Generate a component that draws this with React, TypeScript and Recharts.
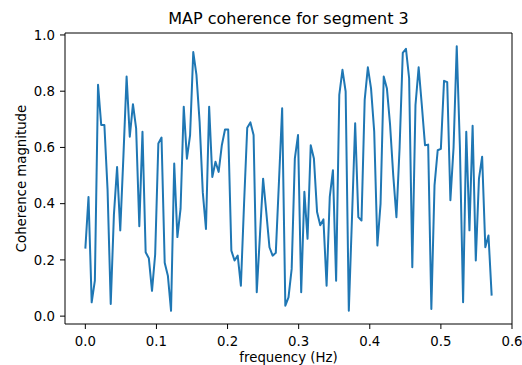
import { LineChart, Line, XAxis, YAxis, Label, ReferenceLine } from "recharts";

// coherence magnitude per frequency bin (129 bins, 0 .. ~0.571 Hz)
const coherence = [
  0.24, 0.424, 0.049, 0.126, 0.823, 0.68, 0.68, 0.45, 0.043, 0.36,
  0.53, 0.305, 0.57, 0.852, 0.638, 0.754, 0.668, 0.32, 0.656, 0.227,
  0.206, 0.09, 0.22, 0.614, 0.635, 0.19, 0.144, 0.019, 0.543, 0.281,
  0.382, 0.745, 0.56, 0.644, 0.939, 0.858, 0.69, 0.44, 0.31, 0.745,
  0.495, 0.549, 0.513, 0.608, 0.664, 0.664, 0.233, 0.198, 0.215, 0.108,
  0.4, 0.67, 0.689, 0.644, 0.085, 0.287, 0.489, 0.37, 0.245, 0.215,
  0.225, 0.48, 0.739, 0.037, 0.067, 0.168, 0.561, 0.644, 0.085, 0.442,
  0.275, 0.608, 0.561, 0.37, 0.323, 0.344, 0.108, 0.424, 0.519, 0.126,
  0.787, 0.876, 0.799, 0.019, 0.35, 0.686, 0.352, 0.34, 0.769, 0.885,
  0.81, 0.656, 0.251, 0.4, 0.852, 0.81, 0.68, 0.5, 0.352, 0.6,
  0.936, 0.951, 0.846, 0.174, 0.751, 0.885, 0.75, 0.608, 0.61, 0.025,
  0.465, 0.59, 0.595, 0.837, 0.832, 0.412, 0.6, 0.96, 0.6, 0.049,
  0.656, 0.305, 0.677, 0.198, 0.489, 0.567, 0.245, 0.287, 0.073,
];

// bin spacing of the frequency grid (last bin ~0.5714 Hz)
const FREQ_STEP = 0.5714 / 128;

const xTicks = [0, 0.1, 0.2, 0.3, 0.4, 0.5, 0.6];
const yTicks = [0, 0.2, 0.4, 0.6, 0.8, 1.0];

const X_DOMAIN = [-0.0286, 0.6];
const Y_DOMAIN = [-0.028, 1.007];

const data = coherence.map((c, i) => ({ freq: i * FREQ_STEP, coherence: c }));

const FONT = "'DejaVu Sans', sans-serif";
const tickStyle = { fontSize: 13.3, fill: "#000", fontFamily: FONT };
const fmt = (v: number) => v.toFixed(1);

export default function App() {
  return (
    <div style={{ position: "absolute", left: 0, top: 0, width: 522, height: 365, background: "#fff", fontFamily: FONT }}>
      <LineChart width={522} height={365} data={data} margin={{ top: 33, right: 10, bottom: 11, left: 0 }}>
        <XAxis
          dataKey="freq"
          type="number"
          domain={X_DOMAIN}
          ticks={xTicks}
          interval={0}
          tickFormatter={fmt}
          allowDataOverflow
          height={30}
          tick={tickStyle}
          tickSize={5}
          tickMargin={8}
          axisLine={{ stroke: "#000", strokeWidth: 1 }}
          tickLine={{ stroke: "#000", strokeWidth: 1 }}
        >
          <Label value="frequency (Hz)" position="bottom" offset={-1.4} fontSize={13.3} fill="#000" fontFamily={FONT} />
        </XAxis>
        <YAxis
          type="number"
          domain={Y_DOMAIN}
          ticks={yTicks}
          interval={0}
          tickFormatter={fmt}
          allowDataOverflow
          width={65}
          tick={tickStyle}
          tickSize={5}
          tickMargin={5}
          axisLine={{ stroke: "#000", strokeWidth: 1 }}
          tickLine={{ stroke: "#000", strokeWidth: 1 }}
        >
          <Label
            content={(props: any) => {
              const vb = props.viewBox || { y: 33, height: 291 };
              const cy = vb.y + vb.height / 2;
              return (
                <text x={26} y={cy} transform={`rotate(-90 26 ${cy})`} textAnchor="middle" fontSize={13.3} fill="#000" fontFamily={FONT}>
                  Coherence magnitude
                </text>
              );
            }}
          />
        </YAxis>
        {/* top and right spines */}
        <ReferenceLine y={Y_DOMAIN[1]} stroke="#000" strokeWidth={1} ifOverflow="visible">
          <Label value="MAP coherence for segment 3" position="top" offset={9} fontSize={16} fill="#000" fontFamily={FONT} />
        </ReferenceLine>
        <ReferenceLine x={X_DOMAIN[1]} stroke="#000" strokeWidth={1} ifOverflow="visible" />
        <Line
          type="linear"
          dataKey="coherence"
          stroke="#1f77b4"
          strokeWidth={2}
          strokeLinejoin="round"
          dot={false}
          isAnimationActive={false}
        />
      </LineChart>
    </div>
  );
}
